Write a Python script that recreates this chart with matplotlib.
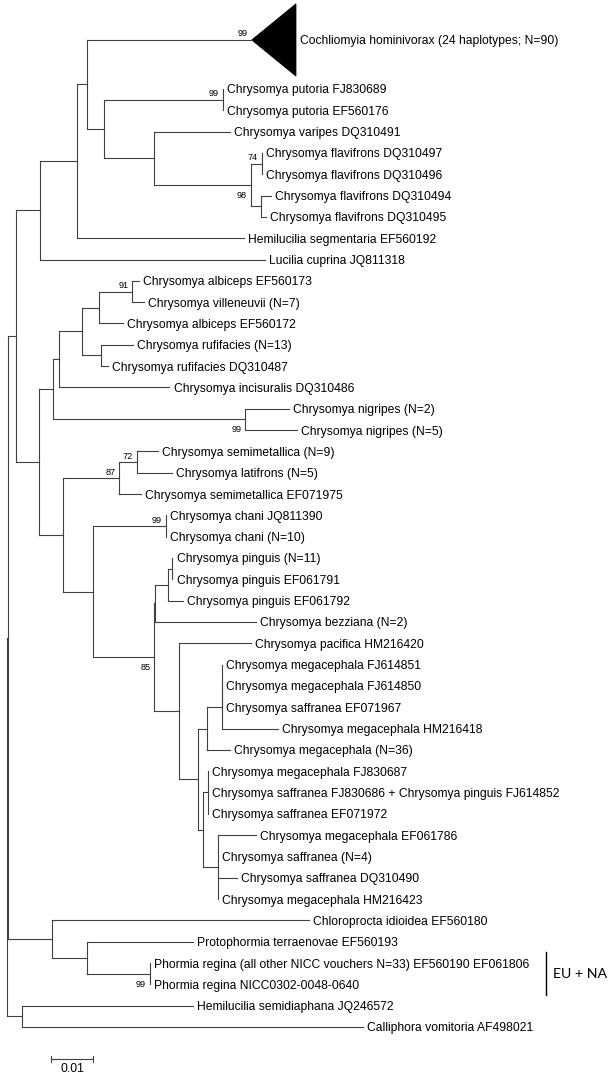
import matplotlib
matplotlib.use("Agg")
import matplotlib.pyplot as plt
from matplotlib.collections import LineCollection
from matplotlib.patches import Polygon
from matplotlib.transforms import offset_copy

# ---------------- data ----------------
# leaves, top to bottom, with distance from the root (substitutions/site)
leaf_labels = [
    "Cochliomyia hominivorax (24 haplotypes; N=90)",
    "Chrysomya putoria FJ830689",
    "Chrysomya putoria EF560176",
    "Chrysomya varipes DQ310491",
    "Chrysomya flavifrons DQ310497",
    "Chrysomya flavifrons DQ310496",
    "Chrysomya flavifrons DQ310494",
    "Chrysomya flavifrons DQ310495",
    "Hemilucilia segmentaria EF560192",
    "Lucilia cuprina JQ811318",
    "Chrysomya albiceps EF560173",
    "Chrysomya villeneuvii (N=7)",
    "Chrysomya albiceps EF560172",
    "Chrysomya rufifacies (N=13)",
    "Chrysomya rufifacies DQ310487",
    "Chrysomya incisuralis DQ310486",
    "Chrysomya nigripes (N=2)",
    "Chrysomya nigripes (N=5)",
    "Chrysomya semimetallica (N=9)",
    "Chrysomya latifrons (N=5)",
    "Chrysomya semimetallica EF071975",
    "Chrysomya chani JQ811390",
    "Chrysomya chani (N=10)",
    "Chrysomya pinguis (N=11)",
    "Chrysomya pinguis EF061791",
    "Chrysomya pinguis EF061792",
    "Chrysomya bezziana (N=2)",
    "Chrysomya pacifica HM216420",
    "Chrysomya megacephala FJ614851",
    "Chrysomya megacephala FJ614850",
    "Chrysomya saffranea EF071967",
    "Chrysomya megacephala HM216418",
    "Chrysomya megacephala (N=36)",
    "Chrysomya megacephala FJ830687",
    "Chrysomya saffranea FJ830686 + Chrysomya pinguis FJ614852",
    "Chrysomya saffranea EF071972",
    "Chrysomya megacephala EF061786",
    "Chrysomya saffranea (N=4)",
    "Chrysomya saffranea DQ310490",
    "Chrysomya megacephala HM216423",
    "Chloroprocta idioidea EF560180",
    "Protophormia terraenovae EF560193",
    "Phormia regina (all other NICC vouchers N=33) EF560190 EF061806",
    "Phormia regina NICC0302-0048-0640",
    "Hemilucilia semidiaphana JQ246572",
    "Calliphora vomitoria AF498021",
]
leaf_depth = [
    0.05742, 0.05069, 0.05069, 0.05233, 0.05976, 0.05976, 0.06187, 0.06077,
    0.05561, 0.06053, 0.03089, 0.03218, 0.02726, 0.02960, 0.02374, 0.03815,
    0.06616, 0.06803, 0.03546, 0.03874, 0.03147, 0.03726, 0.03726, 0.03881,
    0.03881, 0.04132, 0.05843, 0.05714, 0.05050, 0.05050, 0.05050, 0.06358,
    0.05233, 0.04711, 0.04711, 0.04711, 0.05831, 0.04945, 0.05386, 0.04945,
    0.07085, 0.04366, 0.03358, 0.03358, 0.04366, 0.08350,
]
collapsed_leaves = [0]

# internal nodes: name, distance from root, children (int = leaf index)
node_names = ["R", "B", "A", "C", "D", "E", "F", "P", "G", "H", "I", "J",
              "K", "L", "M", "Q", "U", "W", "V", "O", "N", "X", "Z", "Y",
              "CH", "AA", "BB", "PP", "PQ", "CC", "DD", "EE", "GG", "GG2",
              "FF", "HH", "II", "T", "JJ", "KK", "S"]
node_depth = [0.0, 0.00030, 0.00211, 0.00773, 0.01655, 0.01875, 0.02287,
              0.05062, 0.03459, 0.05725, 0.05976, 0.05953,
              0.00764, 0.01078, 0.01233, 0.01758, 0.02163, 0.02944, 0.02210,
              0.05592, 0.01326, 0.02639, 0.03047, 0.02030,
              0.03726, 0.03459, 0.03483, 0.03787, 0.03881, 0.04038, 0.04490,
              0.04687, 0.05039, 0.05050,
              0.04607, 0.04711, 0.04945, 0.01069, 0.01875, 0.03358, 0.00366]
node_children = [
    ["B", "S"], ["A", "T"], ["C", "K"], ["D", 9], ["E", 8], [0, "F"],
    ["P", "G"], [1, 2], [3, "H"], ["I", "J"], [4, 5], [6, 7],
    ["L", "N"], ["M", "O"], ["Q", 15], ["U", "V"], ["W", 12], [10, 11],
    [13, 14], [16, 17], ["X", "Y"], ["Z", 20], [18, 19], ["CH", "AA"],
    [21, 22], ["BB", "CC"], ["PP", 26], ["PQ", 25], [23, 24], [27, "DD"],
    ["EE", "FF"], ["GG", 32], ["GG2", 31], [28, 29, 30],
    ["HH", "II"], [33, 34, 35], [36, 37, 38, 39], [40, "JJ"], [41, "KK"],
    [42, 43], [44, 45],
]

# bootstrap support
support_at = [0, "P", "I", "H", "W", "O", "Z", "X", "CH", "AA", "KK"]
support_value = [99, 99, 74, 98, 91, 99, 72, 87, 99, 85, 99]
support_side = ["above", "above", "above", "below", "above", "below",
                "above", "above", "above", "below", "below"]

scale_length = 0.01
group_label = "EU + NA"
group_leaves = [42, 43]

# ---------------- layout ----------------
DPI = 100
W_PX, H_PX = 612, 1074
ROOT_PX = 6.7            # x pixel of root
PX_PER_UNIT = 4267.0     # pixels per substitution/site
ROW_PX = 21.318          # pixels per leaf row
FIRST_ROW_PX = 89.0      # pixel y of first ordinary leaf
COLLAPSED_ROWS = 3.6
TRI_HALF = 1.70
TRI_W_PX = 44.3

fig = plt.figure(figsize=(W_PX / DPI, H_PX / DPI), dpi=DPI)
ax = fig.add_axes([0, 0, 1, 1])
ax.set_axis_off()

# row positions
leaf_y = []
cur = 0.0
first_regular = None
for i in range(len(leaf_labels)):
    h = COLLAPSED_ROWS if i in collapsed_leaves else 1.0
    leaf_y.append(cur + h / 2)
    if first_regular is None and i not in collapsed_leaves:
        first_regular = cur + h / 2
    cur += h

ax.set_xlim(-ROOT_PX / PX_PER_UNIT, (W_PX - ROOT_PX) / PX_PER_UNIT)
y_top = first_regular - FIRST_ROW_PX / ROW_PX
y_bot = first_regular + (H_PX - FIRST_ROW_PX) / ROW_PX
ax.set_ylim(y_bot, y_top)

depth = dict(zip(node_names, node_depth))
children = dict(zip(node_names, node_children))
node_y = {}


def get_xy(c):
    if isinstance(c, int):
        return leaf_depth[c], leaf_y[c]
    return depth[c], ny(c)


def ny(n):
    if n not in node_y:
        ys = [get_xy(c)[1] for c in children[n]]
        node_y[n] = (min(ys) + max(ys)) / 2
    return node_y[n]


line_col = "#404040"
segs = []
for n in node_names:
    x = depth[n]
    ys = [get_xy(c)[1] for c in children[n]]
    segs.append([(x, min(ys)), (x, max(ys))])
    for c in children[n]:
        cx, cy = get_xy(c)
        segs.append([(x, cy), (cx, cy)])
ax.add_collection(LineCollection(segs, colors=line_col, linewidths=0.8,
                                 capstyle="projecting"))

lab_font = dict(family=["Liberation Sans", "DejaVu Sans"], fontsize=8.7)
boot_font = dict(family=["Liberation Sans", "DejaVu Sans"], fontsize=6.6)

tri_w = TRI_W_PX / PX_PER_UNIT
for i, lab in enumerate(leaf_labels):
    x, y = leaf_depth[i], leaf_y[i]
    if i in collapsed_leaves:
        ax.add_patch(Polygon([(x, y), (x + tri_w, y - TRI_HALF),
                              (x + tri_w, y + TRI_HALF)], closed=True,
                             facecolor="black", edgecolor="black", lw=0.5))
        x = x + tri_w
    tr = offset_copy(ax.transData, fig=fig, x=4.3, y=0, units="dots")
    ax.text(x, y, lab, transform=tr, ha="left", va="center_baseline",
            color="black", **lab_font)

for at, val, side in zip(support_at, support_value, support_side):
    x, y = get_xy(at)
    dy = 7.0 if side == "above" else -9.5
    tr = offset_copy(ax.transData, fig=fig, x=-4.0, y=dy, units="dots")
    ax.text(x, y, str(val), transform=tr, ha="right", va="center_baseline",
            color="black", **boot_font)

# group bar
g_y0 = leaf_y[group_leaves[0]]
g_y1 = leaf_y[group_leaves[-1]]
bar_x = (546.0 - ROOT_PX) / PX_PER_UNIT
ax.plot([bar_x, bar_x], [g_y0 - 0.5, g_y1 + 0.5], color="black", lw=1.0)
tr = offset_copy(ax.transData, fig=fig, x=7, y=0, units="dots")
ax.text(bar_x, (g_y0 + g_y1) / 2, group_label, transform=tr, ha="left",
        va="center", family=["Lato", "DejaVu Sans"], fontsize=10.2,
        color="black")

# scale bar
sb_x0 = (50.7 - ROOT_PX) / PX_PER_UNIT
sb_y = first_regular + (1059.3 - FIRST_ROW_PX) / ROW_PX
tick = 3.0 / ROW_PX
ax.plot([sb_x0, sb_x0 + scale_length], [sb_y, sb_y], color=line_col, lw=0.8)
for xx in (sb_x0, sb_x0 + scale_length):
    ax.plot([xx, xx], [sb_y - tick, sb_y + tick], color=line_col, lw=0.8)
ax.text(sb_x0 + scale_length / 2, sb_y + 4.0 / ROW_PX, f"{scale_length:g}",
        ha="center", va="top", color="black", **lab_font)

fig.savefig("out.png", dpi=DPI)
